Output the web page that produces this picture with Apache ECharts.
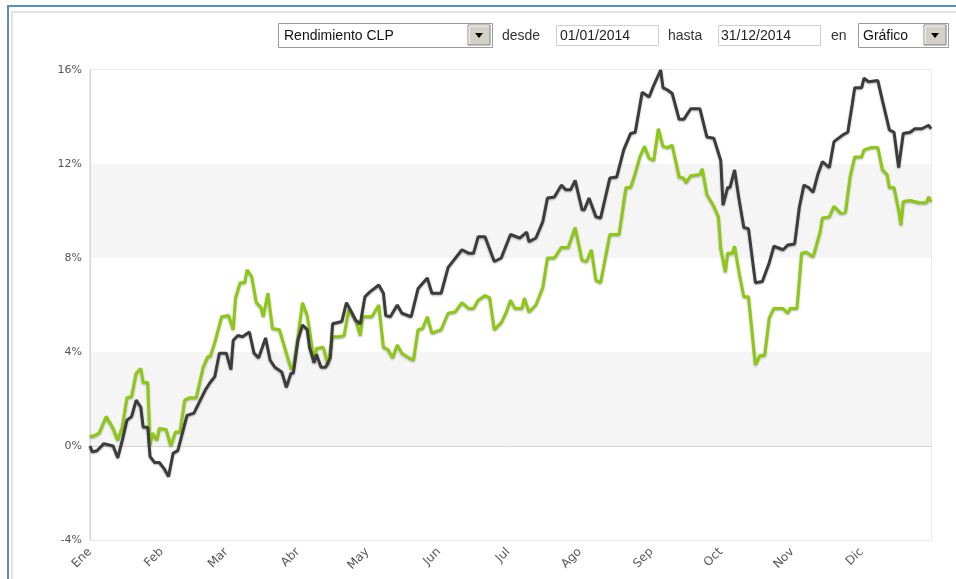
<!DOCTYPE html>
<html>
<head>
<meta charset="utf-8">
<title>Rendimiento CLP 2014</title>
<script src="https://cdn.jsdelivr.net/npm/echarts@6/dist/echarts.min.js"></script>
<style>
  html, body { margin: 0; padding: 0; background: #fff; }
  #chart { width: 956px; height: 579px; }
</style>
</head>
<body>
<div id="chart"></div>
<script>
// month labels (Spanish)
const meses = ['Ene', 'Feb', 'Mar', 'Abr', 'May', 'Jun', 'Jul', 'Ago', 'Sep', 'Oct', 'Nov', 'Dic'];
const ticksY = [-4, 0, 4, 8, 12, 16];

// dark line: day of year 2014 (0 = 1 Jan) and return in %
const diasFondo = [0, 1, 3, 6, 10, 12, 14, 16, 18, 20, 22, 23, 25, 26, 28, 30, 32, 34, 36, 38,
  40, 42, 45, 47, 50, 52, 54, 56, 59, 61, 62, 64, 66, 69, 71, 73, 76, 78, 80, 83,
  85, 87, 88, 90, 92, 94, 95, 97, 98, 100, 102, 104, 105, 109, 111, 114, 115, 117, 119, 121,
  125, 127, 128, 130, 133, 135, 139, 142, 146, 148, 152, 155, 161, 164, 166, 168, 171, 175, 178, 182,
  186, 189, 190, 193, 196, 198, 201, 204, 206, 208, 210, 213, 214, 216, 219, 221, 225, 228, 231, 234,
  236, 239, 242, 244, 247, 248, 250, 252, 255, 257, 260, 264, 267, 270, 273, 274, 276, 277, 279, 281,
  283, 285, 288, 291, 294, 296, 300, 302, 305, 307, 309, 311, 313, 315, 317, 320, 322, 326, 328, 330,
  331, 334, 335, 337, 341, 343, 346, 348, 350, 352, 355, 357, 360, 363, 364];
const valFondo = [0, -0.25, -0.2, 0.1, 0, -0.5, 0.25, 1.1, 1.25, 1.95, 1.65, 0.8, 0.8, -0.45, -0.7, -0.7, -0.95, -1.3, -0.3, -0.2,
  0.55, 1.3, 1.4, 1.8, 2.4, 2.7, 2.95, 3.95, 3.95, 3.25, 4.5, 4.7, 4.65, 4.85, 3.95, 3.75, 4.6, 3.65, 3.35, 3.15,
  2.5, 3.1, 3.1, 4.5, 5.15, 4.95, 4.2, 3.55, 3.9, 3.35, 3.35, 3.75, 5.2, 5.3, 6.1, 5.55, 5.35, 5.2, 6.35, 6.55,
  6.85, 6.5, 5.55, 5.5, 6.0, 5.65, 5.5, 6.7, 7.15, 6.5, 6.5, 7.6, 8.35, 8.2, 8.2, 8.9, 8.9, 7.85, 8.0, 9.0,
  8.85, 9.1, 8.7, 8.85, 9.55, 10.55, 10.6, 11.1, 10.9, 10.9, 11.3, 10.05, 10.05, 10.55, 9.75, 9.7, 11.4, 11.45, 12.6, 13.3,
  13.35, 15.05, 14.85, 15.35, 16.0, 15.25, 15.15, 15.0, 13.9, 13.9, 14.35, 14.35, 13.15, 13.1, 12.15, 10.25, 11.0, 11.0, 11.75, 10.45,
  9.3, 9.25, 6.95, 7.0, 7.8, 8.5, 8.35, 8.55, 8.6, 10.15, 11.1, 11.0, 10.8, 11.55, 12.1, 11.85, 12.95, 13.25, 13.35, 14.6,
  15.25, 15.25, 15.65, 15.5, 15.55, 14.7, 13.45, 13.35, 11.85, 13.3, 13.35, 13.5, 13.5, 13.65, 13.5];

// green line
const diasIndice = [0, 1, 4, 7, 10, 12, 14, 16, 18, 20, 22, 23, 25, 26, 27, 29, 30, 33, 35, 37,
  39, 41, 43, 46, 49, 51, 52, 54, 57, 60, 62, 63, 65, 67, 68, 70, 72, 74, 75, 77,
  79, 82, 85, 87, 88, 90, 92, 94, 95, 97, 98, 101, 103, 105, 108, 110, 112, 115, 117, 118,
  122, 125, 127, 129, 131, 133, 135, 138, 140, 142, 144, 146, 148, 152, 155, 158, 161, 164, 166, 168,
  171, 173, 175, 178, 180, 182, 184, 187, 188, 190, 193, 196, 198, 201, 204, 207, 210, 213, 215, 217,
  219, 221, 225, 229, 232, 234, 236, 238, 240, 242, 244, 246, 248, 250, 252, 255, 257, 258, 260, 264,
  265, 267, 270, 272, 273, 275, 276, 278, 279, 281, 283, 285, 288, 290, 292, 294, 296, 300, 302, 303,
  306, 308, 310, 313, 316, 317, 320, 322, 325, 327, 329, 331, 334, 335, 338, 341, 343, 345, 346, 348,
  350, 351, 352, 355, 359, 362, 363, 364];
const valIndice = [0.45, 0.4, 0.55, 1.25, 0.75, 0.25, 0.8, 2.05, 2.1, 3.1, 3.3, 2.7, 2.7, 0.05, 0.55, 0.25, 0.75, 0.7, 0, 0.6,
  0.6, 1.95, 2.05, 2.05, 3.35, 3.8, 3.8, 4.4, 5.5, 5.55, 4.95, 6.3, 6.95, 6.95, 7.5, 7.2, 6.1, 5.9, 5.5, 6.5,
  5.0, 4.95, 3.95, 3.3, 3.3, 4.65, 6.1, 5.55, 4.95, 3.55, 4.15, 4.2, 3.45, 4.65, 4.65, 4.7, 5.8, 5.35, 4.7, 5.5,
  5.5, 6.0, 4.2, 4.1, 3.75, 4.3, 3.95, 3.75, 3.65, 4.95, 5.0, 5.5, 4.8, 4.95, 5.65, 5.7, 6.1, 5.85, 5.85, 6.2,
  6.4, 6.3, 4.95, 5.25, 5.65, 6.2, 5.85, 5.85, 6.3, 5.7, 6.0, 6.75, 8.0, 8.0, 8.45, 8.45, 9.3, 7.9, 7.85, 8.35,
  7.05, 6.95, 9.0, 9.0, 11.0, 11.0, 11.6, 12.3, 12.75, 12.25, 12.15, 13.5, 12.75, 12.7, 12.8, 11.45, 11.4, 11.2, 11.5, 11.55,
  11.8, 10.7, 10.2, 9.75, 8.4, 7.4, 8.2, 8.2, 8.5, 7.35, 6.35, 6.35, 3.45, 3.85, 3.85, 5.45, 5.85, 5.85, 5.65, 5.85,
  5.85, 8.2, 8.25, 8.05, 9.1, 9.7, 9.75, 10.2, 9.9, 9.95, 11.45, 12.3, 12.3, 12.6, 12.7, 12.7, 11.75, 11.55, 11.0, 11.0,
  10.05, 9.4, 10.4, 10.45, 10.35, 10.35, 10.6, 10.4];

function fecha(d) {
  return new Date(2014, 0, 1 + d).getTime();
}
function pares(dias, vals) {
  return dias.map((d, i) => [fecha(d), vals[i]]);
}

const FONT = '"Liberation Sans", Arial, sans-serif';
const dia = 24 * 3600 * 1000;

// form-like controls above the plot
function caja(x, y, w, h, stroke) {
  return { type: 'rect', shape: { x: x, y: y, width: w, height: h }, style: { fill: '#fff', stroke: stroke, lineWidth: 1 } };
}
function boton(x, y) {
  return [
    { type: 'rect', shape: { x: x, y: y, width: 22, height: 20 }, style: { fill: '#d4d0c8', stroke: '#808080', lineWidth: 1 } },
    { type: 'polyline', shape: { points: [[x + 1, y + 19], [x + 1, y + 1], [x + 21, y + 1]] }, style: { stroke: '#fff', lineWidth: 1, fill: null } },
    { type: 'polygon', shape: { points: [[x + 7, y + 8], [x + 15, y + 8], [x + 11, y + 13]] }, style: { fill: '#000' } }
  ];
}
function texto(x, y, t, color) {
  return { type: 'text', x: x, y: y, style: { text: t, fill: color, font: '14px ' + FONT, textVerticalAlign: 'middle' } };
}

const controles = [
  { type: 'rect', shape: { x: 8, y: 6, width: 1000, height: 1000 }, style: { fill: null, stroke: '#5b8ad4', lineWidth: 2 } },
  { type: 'rect', shape: { x: 12, y: 12, width: 1000, height: 1000 }, style: { fill: null, stroke: '#e2e2e2', lineWidth: 2 } },
  caja(278.5, 23.5, 214, 24, '#9a9a9a'),
  texto(284, 36, 'Rendimiento CLP', '#111'),
  ...boton(468, 25),
  texto(502, 36, 'desde', '#333'),
  caja(556.5, 25.5, 102, 20, '#cfcfcf'),
  texto(560, 36, '01/01/2014', '#222'),
  texto(668, 36, 'hasta', '#333'),
  caja(718.5, 25.5, 102, 20, '#cfcfcf'),
  texto(721, 36, '31/12/2014', '#222'),
  texto(831, 36, 'en', '#333'),
  caja(858.5, 23.5, 90, 24, '#9a9a9a'),
  texto(863, 36, 'Gráfico', '#111'),
  ...boton(924, 25)
];

const chart = echarts.init(document.getElementById('chart'));
chart.setOption({
  animation: false,
  backgroundColor: '#fff',
  graphic: controles,
  grid: { left: 90, right: 25, top: 70, bottom: 39, show: true, borderColor: '#d3d3d3', borderWidth: 1, backgroundColor: 'transparent' },
  xAxis: {
    type: 'time',
    min: fecha(0),
    max: fecha(364),
    splitNumber: 12,
    minInterval: 28 * dia,
    maxInterval: 31 * dia,
    axisLine: { lineStyle: { color: '#d3d3d3' } },
    axisTick: { show: false },
    splitLine: { show: false },
    axisLabel: {
      rotate: 45,
      color: '#555',
      fontFamily: '"DejaVu Sans", Verdana, sans-serif',
      fontSize: 12,
      margin: 10,
      showMaxLabel: false,
      formatter: v => meses[new Date(v).getMonth()]
    }
  },
  yAxis: {
    type: 'value',
    min: ticksY[0],
    max: ticksY[ticksY.length - 1],
    interval: 4,
    axisLine: { show: true, lineStyle: { color: '#d3d3d3' } },
    axisTick: { show: false },
    splitLine: { show: false },
    splitArea: { show: true, areaStyle: { color: ['#ffffff', '#f5f5f5'] } },
    axisLabel: {
      color: '#555',
      fontFamily: '"DejaVu Sans", Verdana, sans-serif',
      fontSize: 11,
      margin: 8,
      formatter: v => v + '%'
    }
  },
  series: [
    {
      name: 'Índice',
      type: 'line',
      data: pares(diasIndice, valIndice),
      showSymbol: false,
      lineStyle: { color: '#8cc814', width: 3, shadowColor: 'rgba(0,0,0,0.3)', shadowBlur: 2, shadowOffsetY: 1 }
    },
    {
      name: 'Fondo',
      type: 'line',
      data: pares(diasFondo, valFondo),
      showSymbol: false,
      lineStyle: { color: '#3c3c3c', width: 3, shadowColor: 'rgba(0,0,0,0.3)', shadowBlur: 2, shadowOffsetY: 1 }
    }
  ]
});
</script>
</body>
</html>
